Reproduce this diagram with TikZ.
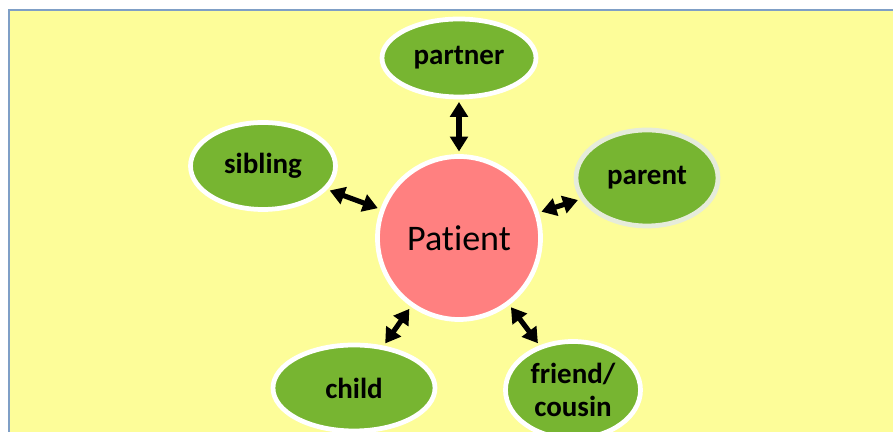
\documentclass[tikz,border=0pt]{standalone}
\usepackage{fontspec}
\setmainfont{Carlito}[Ligatures=NoCommon]
\usetikzlibrary{shapes.geometric,arrows.meta}
\definecolor{bgyellow}{HTML}{FDFD99}
\definecolor{relgreen}{HTML}{77B531}
\definecolor{patpink}{HTML}{FF8080}
\definecolor{frameblue}{HTML}{7F9FC6}
\definecolor{palerim}{HTML}{E6ECDA}

\begin{document}
\begin{tikzpicture}[
        rel/.style={ellipse, draw=white, line width=2.7pt, fill=relgreen, inner sep=0pt,
            align=center, font=\fontsize{16.5}{18.5}\selectfont\bfseries},
        link/.style={{Triangle[length=8.5pt,width=10pt]}-{Triangle[length=8.5pt,width=10pt]},
            line width=2.9pt, shorten <=1.5pt, shorten >=1.5pt}]
        \useasboundingbox (0,0) rectangle (17.86,8.64);
        \fill[bgyellow] (0.18,0) rectangle (17.86,8.44);
        \draw[frameblue, line width=0.8pt] (0.18,0) -- (0.18,8.44) -- (17.86,8.44);
        % patient in the middle
        \node[circle, draw=white, line width=2.7pt, fill=patpink, minimum size=3.26cm,
            font=\fontsize{20.5}{24}\selectfont] (patient) at (9.18,3.88) {Patient};
        % relations round it
        \node[rel, minimum width=3.08cm, minimum height=1.56cm] (partner) at (9.18,7.48) {partner};
        \node[rel, minimum width=2.9cm, minimum height=1.74cm] (sibling) at (5.26,5.32) {sibling};
        \node[rel, draw=palerim, minimum width=2.84cm, minimum height=1.92cm] (parent) at (12.94,5.08) {parent};
        \node[rel, minimum width=3.24cm, minimum height=1.72cm] (child) at (7.08,0.88) {child};
        \node[rel, minimum width=2.7cm, minimum height=1.94cm] (friend) at (11.46,0.84) {friend/\\cousin};
        \foreach \r in {partner,sibling,parent,child,friend} {
            \draw[link] (patient) -- (\r);
        }
\end{tikzpicture}
\end{document}
